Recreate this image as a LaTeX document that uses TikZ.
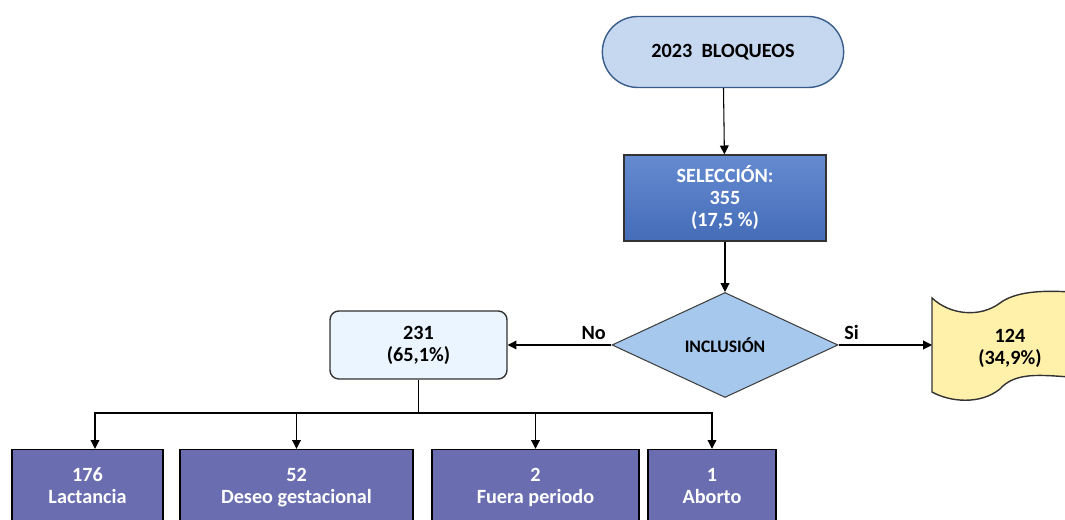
\documentclass[tikz,border=0pt]{standalone}
\usepackage{fontspec}
\setmainfont{Carlito}
\usepackage{xcolor}
\usetikzlibrary{shapes.geometric, shapes.misc, arrows.meta, positioning}

\definecolor{termfill}{RGB}{198,215,240}
\definecolor{termline}{RGB}{56,93,138}
\definecolor{selfill}{RGB}{74,118,200}
\definecolor{decfill}{RGB}{165,200,236}
\definecolor{nofill}{RGB}{234,245,255}
\definecolor{sifill}{RGB}{255,241,170}
\definecolor{catfill}{RGB}{106,110,176}

\begin{document}
\begin{tikzpicture}[
  font=\fontsize{11.5}{12.5}\selectfont\bfseries,
  every node/.style={align=center},
  conn/.style={-{Triangle[length=5pt,width=5pt]}, line width=0.6pt},
  startbox/.style={rounded rectangle, draw=termline, line width=0.8pt, fill=termfill, minimum width=5.06cm, minimum height=1.42cm},
  selbox/.style={rectangle, draw=black!80, line width=0.8pt, top color=selfill!85!white, bottom color=selfill!92!black, text=white, minimum width=4.04cm, minimum height=1.72cm},
  decbox/.style={diamond, draw=black!75, line width=0.6pt, fill=decfill, minimum width=4.52cm, minimum height=2.1cm, inner sep=0pt, font=\fontsize{10}{12}\selectfont\bfseries},
  nobox/.style={rectangle, rounded corners=5pt, draw=black!80, line width=0.8pt, fill=nofill, minimum width=3.54cm, minimum height=1.36cm},
  catbox/.style={rectangle, draw=black, line width=0.8pt, fill=catfill, text=white, minimum height=1.46cm, text depth=0pt},
]
\useasboundingbox (0,0) rectangle (21.3,10.4);

% Main flow
\node[startbox] (start) at (14.46,9.36) {2023\ \ BLOQUEOS};
\node[selbox] (sel) at (14.5,6.44) {SELECCIÓN:\\355\\(17,5 \%)};
\node[decbox] (incl) at (14.5,3.5) {INCLUSIÓN};
\node[nobox] (no) at (8.37,3.5) {231\\(65,1\%)};

% Si branch -- banner shape, cut at the right edge
\filldraw[fill=sifill, draw=black!80, line width=0.8pt]
  (18.64,4.44) .. controls (19.0,4.1) and (19.6,4.04) .. (20.0,4.34)
  .. controls (20.3,4.56) and (20.8,4.6) .. (21.4,4.56) -- (21.6,4.56)
  -- (21.6,2.86) -- (21.4,2.86)
  .. controls (20.8,2.9) and (20.3,2.96) .. (20.0,2.62)
  .. controls (19.6,2.3) and (19.0,2.36) .. (18.64,2.56) -- cycle;
\node (si) at (20.2,3.44) {124\\(34,9\%)};
\coordinate (sientry) at (18.64,3.5);

% Categories
\node[catbox, minimum width=3.02cm] (lact) at (1.75,0.68) {176\\Lactancia};
\node[catbox, minimum width=4.66cm] (deseo) at (5.93,0.68) {52\\Deseo gestacional};
\node[catbox, minimum width=4.14cm] (fuera) at (10.71,0.68) {2\\Fuera periodo};
\node[catbox, minimum width=2.56cm] (aborto) at (14.24,0.68) {1\\Aborto};
\coordinate (bus) at (8.37,2.14);

% Connectors
\draw[conn] (start) -- (sel);
\draw[conn] (sel) -- (incl);
\draw[conn] (incl.west) -- node[pos=0, above left, inner sep=3pt] {No} (no.east);
\draw[conn] (incl.east) -- node[pos=0, above right, inner sep=3pt] {Si} (sientry);
\draw[line width=0.6pt] (no.south) -- (bus);
\draw[conn] (bus) -| ([xshift=0.15cm]lact.north);
\draw[conn] (bus) -| (deseo.north);
\draw[conn] (bus) -| (fuera.north);
\draw[conn] (bus) -| (aborto.north);
\end{tikzpicture}
\end{document}
